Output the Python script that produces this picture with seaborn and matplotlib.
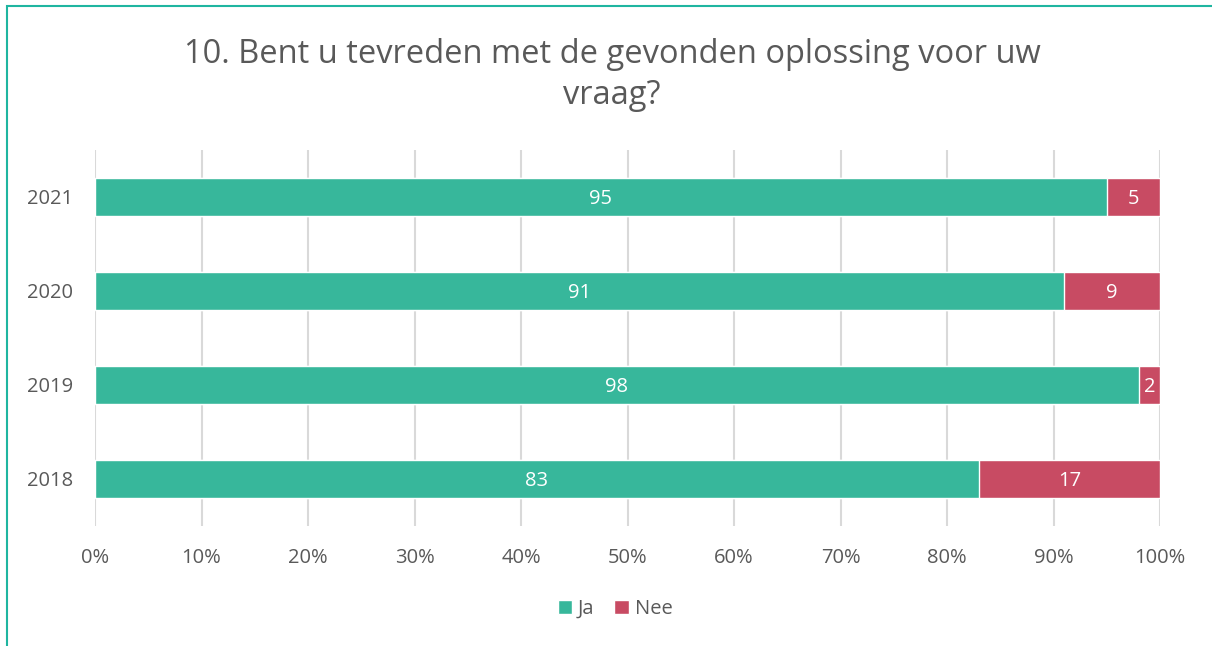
import matplotlib
matplotlib.use("Agg")
import matplotlib.pyplot as plt
import seaborn as sns
import pandas as pd
from matplotlib.patches import Rectangle, Patch

years = ["2021", "2020", "2019", "2018"]
ja = [95, 91, 98, 83]
nee = [5, 9, 2, 17]
xticks = [0, 10, 20, 30, 40, 50, 60, 70, 80, 90, 100]
title = "10. Bent u tevreden met de gevonden oplossing voor uw\nvraag?"

sns.set_theme(style="white")
plt.rcParams['font.family'] = ['Open Sans', 'DejaVu Sans']

TEAL = "#37B79B"
RED = "#C84B63"
GREY = "#595959"
FS = 14.5

df = pd.DataFrame({"year": years, "ja": ja, "nee": nee})
df["total"] = df["ja"] + df["nee"]

fig = plt.figure(figsize=(12.12, 6.46), dpi=100)
ax = fig.add_axes([95/1212, 1-526/646, (1160-95)/1212, 376/646])

sns.barplot(data=df, y="year", x="total", color=RED, width=0.4, ax=ax, orient="h", saturation=1)
sns.barplot(data=df, y="year", x="ja", color=TEAL, width=0.4, ax=ax, orient="h", saturation=1)

for i, (j, n) in enumerate(zip(ja, nee)):
    ax.text(j/2, i, str(j), ha="center", va="center_baseline", color="white", fontsize=FS)
    ax.text(j + n/2, i, str(n), ha="center", va="center_baseline", color="white", fontsize=FS)

ax.set_xlim(0, 100)
ax.set_ylim(3.5, -0.5)
ax.set_xticks(xticks)
ax.set_xticklabels([f"{t}%" for t in xticks], color=GREY, fontsize=FS)
ax.tick_params(axis="y", labelcolor=GREY, labelsize=FS, length=0, pad=16)
ax.tick_params(axis="x", length=0, pad=16)
ax.set_xlabel("")
ax.set_ylabel("")
ax.grid(axis="x", color="#D9D9D9", linewidth=1.5)
ax.set_axisbelow(True)
for s in ax.spines.values():
    s.set_visible(False)

fig.text(0.505, 1-75/646, title, ha="center", va="center", fontsize=23.5, color=GREY, linespacing=1.3)

handles = [Patch(facecolor=TEAL, label="Ja"), Patch(facecolor=RED, label="Nee")]
fig.legend(handles=handles, loc="center", bbox_to_anchor=(615/1212, 1-609/646), ncol=2,
           frameon=False, fontsize=FS, labelcolor=GREY, handlelength=0.7, handleheight=0.7,
           handletextpad=0.3, columnspacing=1.0)

fig.patches.append(Rectangle((7/1212, -0.1), 1.2, 1 - 6/646 + 0.1, transform=fig.transFigure,
                             fill=False, edgecolor="#1FB5A0", linewidth=1.5, figure=fig))

fig.savefig("out.png", dpi=100)
